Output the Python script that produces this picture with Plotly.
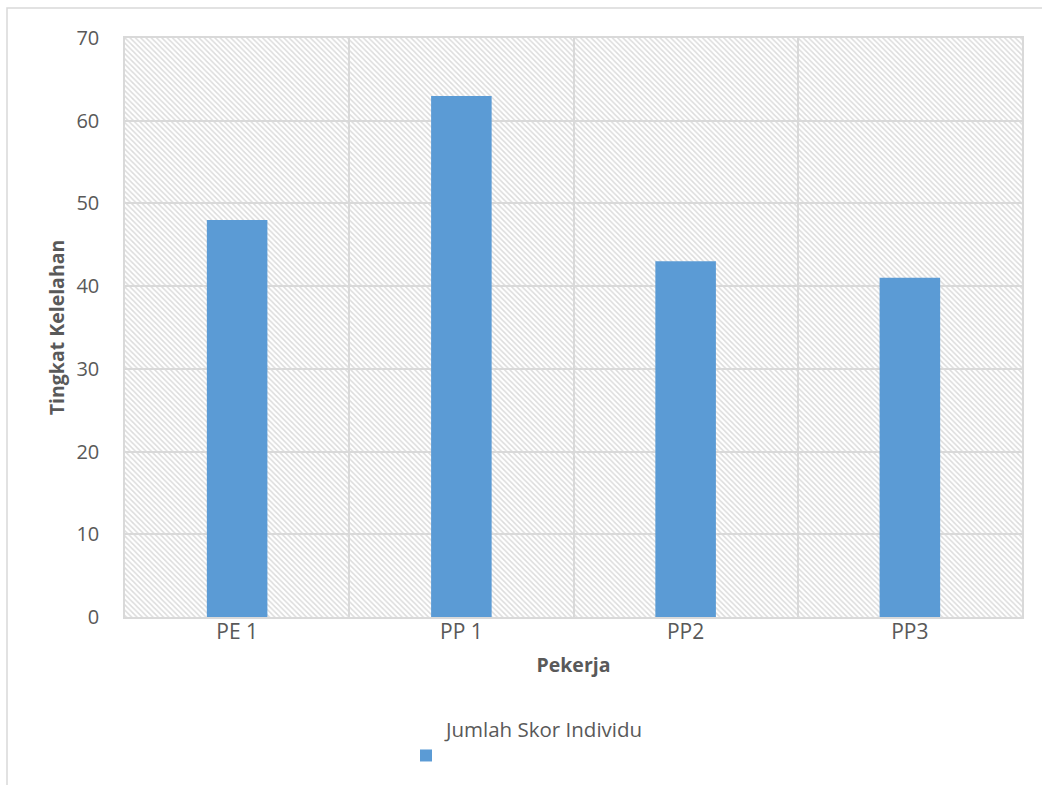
import base64
import plotly.graph_objects as go

# Fatigue score per worker
pekerja = ["PE 1", "PP 1", "PP2", "PP3"]
skor = [48, 63, 43, 41]
y_ticks = [0, 10, 20, 30, 40, 50, 60, 70]

W, H = 1042, 785
ML, MR, MT, MB = 125, 20, 38, 168
PW, PH = W - ML - MR, H - MT - MB

GRID = "#d9d9d9"
TEXT = "#595959"
BAR = "#5b9bd5"
FONT = "'Open Sans', 'Noto Sans', sans-serif"

# diagonal hatch fill for the plot area
svg = f"""<svg xmlns='http://www.w3.org/2000/svg' width='{PW}' height='{PH}' viewBox='0 0 {PW} {PH}' preserveAspectRatio='none'>
<defs><pattern id='h' patternUnits='userSpaceOnUse' width='5.3' height='5.3'>
<path d='M-1,-1 L6.3,6.3 M-1,4.3 L1,6.3 M4.3,-1 L6.3,1' stroke='#dcdcdc' stroke-width='1.5'/>
</pattern></defs>
<rect width='{PW}' height='{PH}' fill='white'/>
<rect width='{PW}' height='{PH}' fill='url(#h)'/>
</svg>"""
hatch = "data:image/svg+xml;base64," + base64.b64encode(svg.encode()).decode()

fig = go.Figure()
fig.add_trace(go.Bar(
    x=pekerja, y=skor, name="Jumlah Skor Individu<br> ",
    marker=dict(color=BAR, line=dict(width=0)),
    width=0.27,
))

def px_x(p):
    return (p - ML) / PW

def px_y(p):
    return (H - MB - p) / PH

fig.update_layout(
    width=W, height=H,
    margin=dict(l=ML, r=MR, t=MT, b=MB, autoexpand=False),
    paper_bgcolor="white",
    plot_bgcolor="rgba(0,0,0,0)",
    font=dict(family=FONT, color=TEXT),
    showlegend=True,
    legend=dict(
        x=px_x(406), y=px_y(709), xanchor="left", yanchor="top",
        font=dict(size=20.5, color=TEXT, family=FONT),
        valign="bottom", bgcolor="rgba(0,0,0,0)",
    ),
    images=[dict(
        source=hatch, xref="paper", yref="paper", x=0, y=1,
        sizex=1, sizey=1, xanchor="left", yanchor="top",
        sizing="stretch", layer="below",
    )],
    shapes=[dict(
        type="rect", xref="paper", yref="paper",
        x0=px_x(7), x1=px_x(1060), y0=px_y(800), y1=px_y(8),
        line=dict(color=GRID, width=1.5), fillcolor="rgba(0,0,0,0)",
        layer="below",
    )],
    bargap=0.73,
)

fig.update_xaxes(
    type="category", tickson="boundaries", showgrid=True, automargin=False,
    gridcolor=GRID, gridwidth=1.5, ticks="",
    showline=True, linecolor=GRID, linewidth=1.5, mirror=True,
    tickfont=dict(size=21, color=TEXT, family=FONT),
    ticklabelstandoff=-5,
    title=dict(text="<b>Pekerja</b>", font=dict(size=19.5, color=TEXT, family=FONT), standoff=14),
)
fig.update_yaxes(
    range=[0, 70], tickvals=y_ticks, showgrid=True, automargin=False,
    gridcolor=GRID, gridwidth=1.5, zeroline=False, ticks="",
    showline=True, linecolor=GRID, linewidth=1.5, mirror=True,
    tickfont=dict(size=20, color=TEXT, family=FONT),
    ticklabelstandoff=20,
    title=dict(text="<b>Tingkat Kelelahan</b>", font=dict(size=19.5, color=TEXT, family=FONT), standoff=7),
)

fig.write_html("out.html")
